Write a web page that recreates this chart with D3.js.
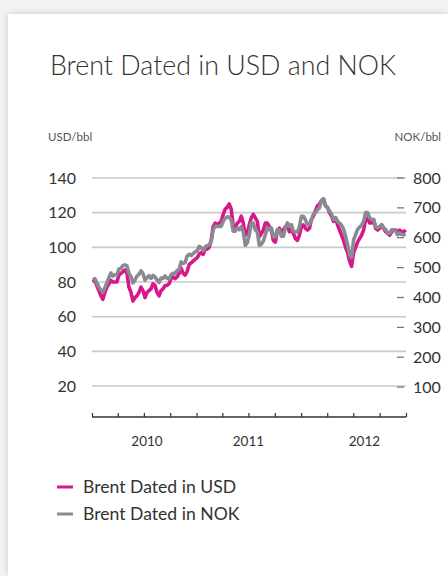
<!DOCTYPE html>
<html>
<head>
  <meta charset="utf-8">
  <title>Brent Dated in USD and NOK</title>
  <style>
    body { margin: 0; background: #f3f3f3; }
    #card {
      position: absolute; left: 8px; top: 14px; width: 440px; height: 562px;
      background: #fff; box-shadow: 0 0 7px rgba(0,0,0,0.16);
    }
    svg { position: absolute; left: 0; top: 0; }
    text { font-family: Lato, "Open Sans", sans-serif; fill: #333; }
  </style>
</head>
<body>
<div id="card"></div>
<script src="https://d3js.org/d3.v7.min.js"></script>
<script>
  var width = 448;
  var height = 576;

  // weekly Brent Dated, USD/bbl (Mondays from 4 Jan 2010)
  var usd2010 = [80, 81, 78, 75, 72, 70, 74, 77, 79, 81, 80, 80, 80, 84, 85, 86, 87,
    85, 77, 74, 69, 71, 72, 74, 77, 75, 71, 74, 75, 76, 79, 78, 74, 72, 75,
    76, 78, 78, 79, 82, 83, 82, 83, 85, 88, 85, 84, 86, 90, 91, 92, 93];
  var usd2011 = [94, 96, 97, 96, 99, 99, 100, 104, 112, 114, 113, 114, 115, 119, 122, 123, 125,
    122, 112, 111, 114, 115, 118, 114, 107, 108, 113, 117, 119, 117, 115, 106, 108, 110, 114,
    114, 112, 110, 104, 103, 110, 111, 109, 110, 112, 113, 109, 110, 108, 105, 104, 107];
  var usd2012 = [112, 113, 111, 110, 111, 116, 118, 121, 124, 125, 127, 128, 124,
    123, 120, 118, 115, 117, 113, 110, 107, 104, 100, 97, 92, 89, 97, 100, 103, 105, 107,
    110, 116, 117, 114, 114, 116, 111, 110, 111, 113, 111, 109, 108, 107, 109, 110, 110,
    109, 110, 109, 109, 110];

  // weekly Brent Dated, NOK/bbl
  var nok2010 = [458, 463, 449, 435, 425, 417, 433, 450, 466, 482, 472, 476, 476, 496, 497, 507, 509,
    506, 481, 470, 449, 458, 472, 477, 489, 480, 458, 466, 473, 464, 474, 468, 459, 450, 465,
    464, 472, 464, 462, 476, 481, 480, 490, 493, 519, 514, 517, 538, 545, 541, 547, 553];
  var nok2011 = [555, 571, 567, 557, 569, 574, 575, 588, 627, 638, 638, 638, 638, 655, 665, 670, 669,
    659, 622, 622, 633, 627, 637, 621, 575, 583, 610, 649, 649, 626, 621, 575, 578, 589, 610,
    633, 627, 633, 603, 603, 627, 627, 605, 605, 633, 650, 638, 644, 621, 620, 619, 637];
  var nok2012 = [672, 672, 660, 644, 644, 661, 679, 684, 694, 700, 724, 730, 707,
    701, 690, 679, 661, 667, 655, 649, 642, 629, 605, 577, 543, 534, 592, 610, 628, 635, 642,
    655, 684, 684, 667, 661, 661, 638, 633, 638, 644, 633, 627, 616, 615, 627, 627, 622,
    610, 616, 610, 610, 611];

  var usdTicks = [20, 40, 60, 80, 100, 120, 140];
  var nokTicks = [100, 200, 300, 400, 500, 600, 700, 800];
  var yearLabels = ['2010', '2011', '2012'];
  var yearLabelDates = ['2010-07-12', '2011-07-01', '2012-08-09'];
  var seriesNames = ['Brent Dated in USD', 'Brent Dated in NOK'];
  var seriesColors = ['#d9178c', '#8a8a93'];

  var parse = d3.timeParse('%Y-%m-%d');
  var firstWeek = new Date(2010, 0, 4);

  function toPoints(values, startYearWeek) {
    return values.map(function(v, i) {
      return { date: d3.timeMonday.offset(startYearWeek, i), value: v };
    });
  }

  var usd = toPoints(usd2010, firstWeek)
    .concat(toPoints(usd2011, new Date(2011, 0, 3)))
    .concat(toPoints(usd2012, new Date(2012, 0, 2)));
  var nok = toPoints(nok2010, firstWeek)
    .concat(toPoints(nok2011, new Date(2011, 0, 3)))
    .concat(toPoints(nok2012, new Date(2012, 0, 2)));

  var svg = d3.select('body')
    .append('svg')
      .attr('width', width)
      .attr('height', height);

  var x = d3.scaleTime()
    .domain([new Date(2010, 0, 1), new Date(2013, 0, 1)])
    .range([92, 406]);

  var yUsd = d3.scaleLinear().domain([0, 140]).range([420.7, 178]);
  var yNok = d3.scaleLinear().domain([0, 800]).range([417, 178]);

  // title and units
  svg.append('text')
    .attr('x', 50).attr('y', 75)
    .style('font-size', '26.8px').style('font-weight', 300)
    .text('Brent Dated in USD and NOK');

  svg.append('text')
    .attr('x', 48).attr('y', 141)
    .style('font-size', '11.5px').style('fill', '#555')
    .text('USD/bbl');

  svg.append('text')
    .attr('x', 441).attr('y', 141)
    .attr('text-anchor', 'end')
    .style('font-size', '11.5px').style('fill', '#555')
    .text('NOK/bbl');

  // gridlines + left labels
  svg.append('g').selectAll('line')
    .data(usdTicks)
    .enter().append('line')
      .attr('x1', 92).attr('x2', 406)
      .attr('y1', function(d) { return yUsd(d); })
      .attr('y2', function(d) { return yUsd(d); })
      .attr('stroke', '#c9c9ce')
      .attr('stroke-width', 1.6);

  svg.append('g').selectAll('text')
    .data(usdTicks)
    .enter().append('text')
      .attr('x', 76)
      .attr('y', function(d) { return yUsd(d); })
      .attr('dy', '0.35em')
      .attr('text-anchor', 'end')
      .style('font-size', '16px')
      .text(function(d) { return d; });

  // right axis
  var right = svg.append('g');
  right.selectAll('line')
    .data(nokTicks)
    .enter().append('line')
      .attr('x1', 397).attr('x2', 404)
      .attr('y1', function(d) { return yNok(d); })
      .attr('y2', function(d) { return yNok(d); })
      .attr('stroke', '#777')
      .attr('stroke-width', 1.3);
  right.selectAll('text')
    .data(nokTicks)
    .enter().append('text')
      .attr('x', 413)
      .attr('y', function(d) { return yNok(d); })
      .attr('dy', '0.35em')
      .style('font-size', '16px')
      .text(function(d) { return d; });

  // x axis with quarterly ticks pointing up
  var xAxis = d3.axisTop(x)
    .ticks(d3.timeMonth.every(3))
    .tickSize(4)
    .tickFormat('');
  var xg = svg.append('g')
    .attr('transform', 'translate(0,417)')
    .call(xAxis);
  xg.select('.domain').attr('d', 'M92,0H406').attr('stroke', '#333').attr('stroke-width', 1.4);
  xg.selectAll('.tick line').attr('stroke', '#333').attr('stroke-width', 1.2);

  svg.append('g').selectAll('text')
    .data(yearLabels)
    .enter().append('text')
      .attr('x', function(d, i) { return x(parse(yearLabelDates[i])); })
      .attr('y', 446)
      .attr('text-anchor', 'middle')
      .style('font-size', '13.5px')
      .text(function(d) { return d; });

  // lines
  var lineUsd = d3.line()
    .x(function(d) { return x(d.date); })
    .y(function(d) { return yUsd(d.value); });
  var lineNok = d3.line()
    .x(function(d) { return x(d.date); })
    .y(function(d) { return yNok(d.value); });

  svg.append('path')
    .datum(usd)
    .attr('d', lineUsd)
    .attr('fill', 'none')
    .attr('stroke', seriesColors[0])
    .attr('stroke-width', 3.6)
    .attr('stroke-linejoin', 'round');

  svg.append('path')
    .datum(nok)
    .attr('d', lineNok)
    .attr('fill', 'none')
    .attr('stroke', seriesColors[1])
    .attr('stroke-width', 3.6)
    .attr('stroke-linejoin', 'round');

  // legend
  var legend = svg.append('g').selectAll('g')
    .data(seriesNames)
    .enter().append('g')
      .attr('transform', function(d, i) { return 'translate(57,' + (487 + i * 27) + ')'; });
  legend.append('line')
    .attr('x1', 0).attr('x2', 16)
    .attr('stroke', function(d, i) { return seriesColors[i]; })
    .attr('stroke-width', 3);
  legend.append('text')
    .attr('x', 26).attr('dy', '0.35em')
    .style('font-size', '17.6px')
    .text(function(d) { return d; });
</script>
</body>
</html>
